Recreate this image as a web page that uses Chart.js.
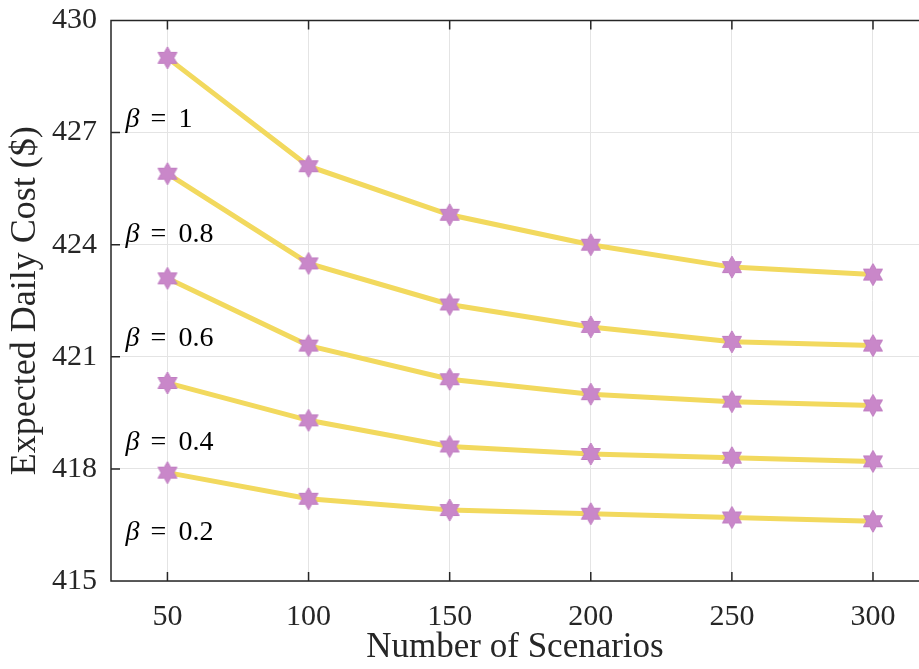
<!DOCTYPE html>
<html>
<head>
<meta charset="utf-8">
<script src="https://cdn.jsdelivr.net/npm/chart.js@4.4.1/dist/chart.umd.min.js"></script>
<style>
  html, body { margin: 0; padding: 0; background: #fff; overflow: hidden; }
  #wrap { width: 919px; height: 669px; position: relative; }
</style>
</head>
<body>
<div id="wrap"><canvas id="costChart"></canvas></div>
<script>
'use strict';

// Scenario counts on the x axis.
const scenarios = [50, 100, 150, 200, 250, 300];
const xTicks = [50, 100, 150, 200, 250, 300];
const yTicks = [415, 418, 421, 424, 427, 430];

// Expected daily cost ($) per beta value.
const costBeta10 = [429.0, 426.1, 424.8, 424.0, 423.4, 423.2];
const costBeta08 = [425.9, 423.5, 422.4, 421.8, 421.4, 421.3];
const costBeta06 = [423.1, 421.3, 420.4, 420.0, 419.8, 419.7];
const costBeta04 = [420.3, 419.3, 418.6, 418.4, 418.3, 418.2];
const costBeta02 = [417.9, 417.2, 416.9, 416.8, 416.7, 416.6];

// Curve labels and where their baselines sit (in cost units).
const betaLabels = ['1', '0.8', '0.6', '0.4', '0.2'];
const betaLabelY = [427.15, 424.07, 421.29, 418.50, 416.09];
const betaLabelX = 35.1;

const serif = '"Liberation Serif", "Times New Roman", serif';
const ink = '#262626';
const lineColor = '#F2D95E';
const starColor = '#C987C9';

/**
 * Build a six-pointed star used as the point marker.
 */
const makeHexagram = (r) => {
    const c = document.createElement('canvas');
    const size = Math.ceil(r * 2 + 2);
    c.width = size;
    c.height = size;
    const g = c.getContext('2d');
    const cx = size / 2;
    const cy = size / 2;
    const inner = r / Math.sqrt(3);
    g.beginPath();
    for (let i = 0; i < 12; i++) {
        const rad = i % 2 === 0 ? r : inner;
        const a = -Math.PI / 2 + i * Math.PI / 6;
        const px = cx + rad * Math.cos(a);
        const py = cy + rad * Math.sin(a);
        if (i === 0) {
            g.moveTo(px, py);
        } else {
            g.lineTo(px, py);
        }
    }
    g.closePath();
    g.fillStyle = starColor;
    g.fill();
    g.lineWidth = 1;
    g.strokeStyle = '#C07EC2';
    g.stroke();
    return c;
};

const star = makeHexagram(11);

const series = [costBeta10, costBeta08, costBeta06, costBeta04, costBeta02];

const datasets = series.map((values, i) => ({
    label: 'beta = ' + betaLabels[i],
    data: scenarios.map((x, j) => ({x: x, y: values[j]})),
    borderColor: lineColor,
    borderWidth: 5,
    pointStyle: star,
    pointRadius: 11,
    pointHoverRadius: 11,
    tension: 0,
    fill: false,
}));

// Box frame with inward ticks, drawn over the curves.
const framePlugin = {
    id: 'frame',
    afterDatasetsDraw(chart) {
        const {ctx, chartArea: a, scales: {x, y}} = chart;
        ctx.save();
        ctx.strokeStyle = ink;
        ctx.lineWidth = 1.5;
        ctx.beginPath();
        ctx.moveTo(a.right, a.top);
        ctx.lineTo(a.left, a.top);
        ctx.lineTo(a.left, a.bottom);
        ctx.lineTo(a.right, a.bottom);
        const len = 9;
        xTicks.forEach((v) => {
            const px = x.getPixelForValue(v);
            ctx.moveTo(px, a.bottom);
            ctx.lineTo(px, a.bottom - len);
            ctx.moveTo(px, a.top);
            ctx.lineTo(px, a.top + len);
        });
        yTicks.forEach((v) => {
            const py = y.getPixelForValue(v);
            ctx.moveTo(a.left, py);
            ctx.lineTo(a.left + len, py);
        });
        ctx.stroke();

        // Beta labels next to each curve, spaced like TeX math.
        ctx.fillStyle = '#000';
        ctx.textBaseline = 'alphabetic';
        ctx.textAlign = 'left';
        betaLabels.forEach((lab, i) => {
            const px = x.getPixelForValue(betaLabelX);
            const py = y.getPixelForValue(betaLabelY[i]);
            ctx.font = 'italic 28px ' + serif;
            ctx.fillText('β', px, py);
            ctx.font = '28px ' + serif;
            ctx.fillText('=', px + 25, py);
            ctx.fillText(lab, px + 53, py);
        });
        ctx.restore();
    },
};

new Chart(document.getElementById('costChart'), {
    type: 'line',
    data: {datasets: datasets},
    options: {
        responsive: true,
        maintainAspectRatio: false,
        animation: false,
        layout: {
            autoPadding: false,
            padding: {top: 20.5, right: 0, bottom: 0, left: 0},
        },
        plugins: {
            legend: {display: false},
            tooltip: {enabled: false},
        },
        scales: {
            x: {
                type: 'linear',
                min: 30,
                max: 316.3,
                afterBuildTicks: (s) => {
                    s.ticks = xTicks.map((v) => ({value: v}));
                },
                afterFit: (s) => {
                    s.height = 88;
                    s.paddingLeft = 0;
                    s.paddingRight = 0;
                },
                border: {display: false},
                grid: {color: '#E4E4E4', lineWidth: 1, drawTicks: false},
                ticks: {
                    color: ink,
                    padding: 18,
                    maxRotation: 0,
                    font: {family: serif, size: 30},
                },
                title: {
                    display: true,
                    text: 'Number of Scenarios',
                    color: ink,
                    padding: {top: 2, bottom: 0},
                    font: {family: serif, size: 35, lineHeight: 1.2},
                },
            },
            y: {
                type: 'linear',
                min: 415,
                max: 430,
                afterBuildTicks: (s) => {
                    s.ticks = yTicks.map((v) => ({value: v}));
                },
                afterFit: (s) => {
                    s.width = 111;
                    s.paddingTop = 0;
                    s.paddingBottom = 0;
                },
                border: {display: false},
                grid: {color: '#E4E4E4', lineWidth: 1, drawTicks: false},
                ticks: {
                    color: ink,
                    padding: 14,
                    font: {family: serif, size: 30},
                },
                title: {
                    display: true,
                    text: 'Expected Daily Cost ($)',
                    color: ink,
                    padding: {top: 4, bottom: 0},
                    font: {family: serif, size: 36, lineHeight: 1.2},
                },
            },
        },
    },
    plugins: [framePlugin],
});
</script>
</body>
</html>
